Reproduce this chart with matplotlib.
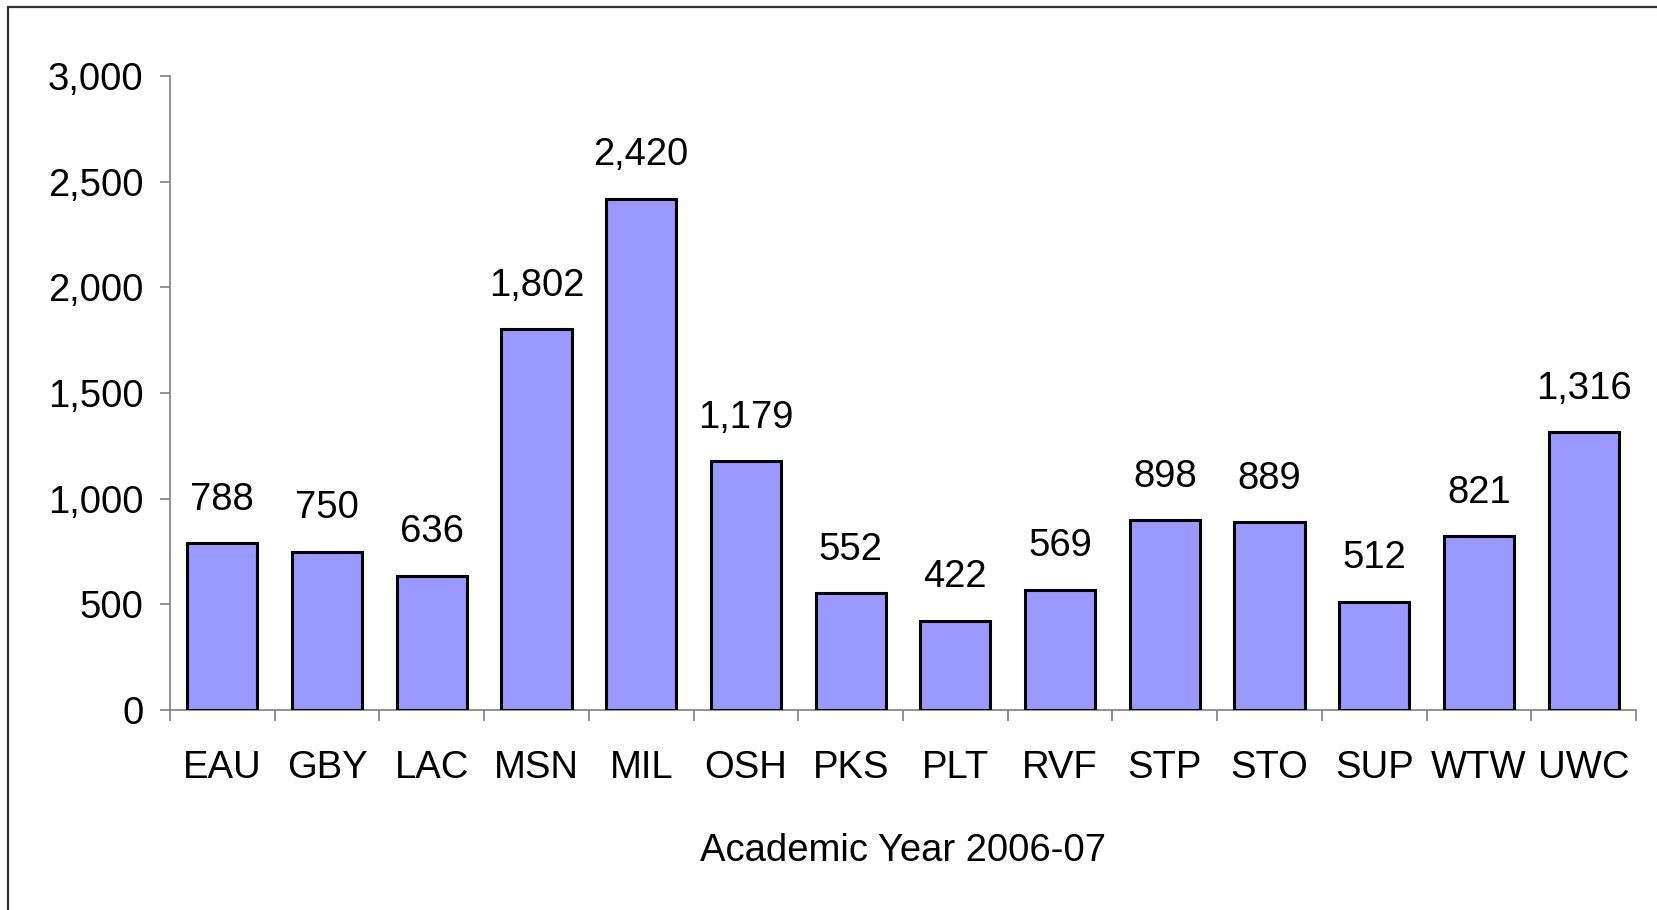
import matplotlib.pyplot as plt
from matplotlib.patches import Rectangle
from matplotlib.ticker import FuncFormatter, FixedLocator

campuses = ["EAU", "GBY", "LAC", "MSN", "MIL", "OSH", "PKS",
            "PLT", "RVF", "STP", "STO", "SUP", "WTW", "UWC"]
counts = [788, 750, 636, 1802, 2420, 1179, 552,
          422, 569, 898, 889, 512, 821, 1316]
y_ticks = [0, 500, 1000, 1500, 2000, 2500, 3000]

plt.rcParams["font.family"] = ["Liberation Sans", "DejaVu Sans"]
FS = 27.5

W, H = 1658, 910
fig = plt.figure(figsize=(W / 100, H / 100), dpi=100)
ax = fig.add_axes([170 / W, 1 - 710 / H, (1636 - 170) / W, (710 - 76) / H])

# outer frame (only left and top edges visible in the reference)
fig.patches.append(Rectangle((8 / W, -0.1), 1.2, 1 - 7 / H + 0.1,
                             transform=fig.transFigure, fill=False,
                             edgecolor="#333333", linewidth=1.6))

x = list(range(len(campuses)))
ax.bar(x, counts, width=0.67, color="#9999FF", edgecolor="black",
       linewidth=2.2, zorder=3)

for xi, v in zip(x, counts):
    ax.annotate(f"{v:,}", (xi, v), xytext=(0, 24), textcoords="offset points",
                ha="center", va="baseline", fontsize=FS)

ax.set_xlim(-0.5, len(campuses) - 0.5)
ax.set_ylim(0, 3000)
ax.set_yticks(y_ticks)
ax.yaxis.set_major_formatter(FuncFormatter(lambda v, p: f"{int(v):,}"))

# ticks sit between categories, labels centered under bars
ax.xaxis.set_major_locator(FixedLocator([i - 0.5 for i in range(len(campuses) + 1)]))
ax.xaxis.set_minor_locator(FixedLocator(x))
ax.set_xticklabels([])
ax.set_xticklabels(campuses, minor=True)
ax.tick_params(axis="x", which="major", length=8, width=1.2, color="#808080")
ax.tick_params(axis="x", which="minor", length=0, pad=29, labelsize=FS)
ax.tick_params(axis="y", length=7, width=1.2, color="#808080", pad=12, labelsize=FS)

for s in ["top", "right"]:
    ax.spines[s].set_visible(False)
for s in ["left", "bottom"]:
    ax.spines[s].set_color("#808080")
    ax.spines[s].set_linewidth(1.2)

ax.set_xlabel("Academic Year 2006-07", fontsize=FS, va="center")
ax.xaxis.set_label_coords(0.5, -(851 - 710) / (710 - 76))

fig.savefig("out.png", dpi=100)
